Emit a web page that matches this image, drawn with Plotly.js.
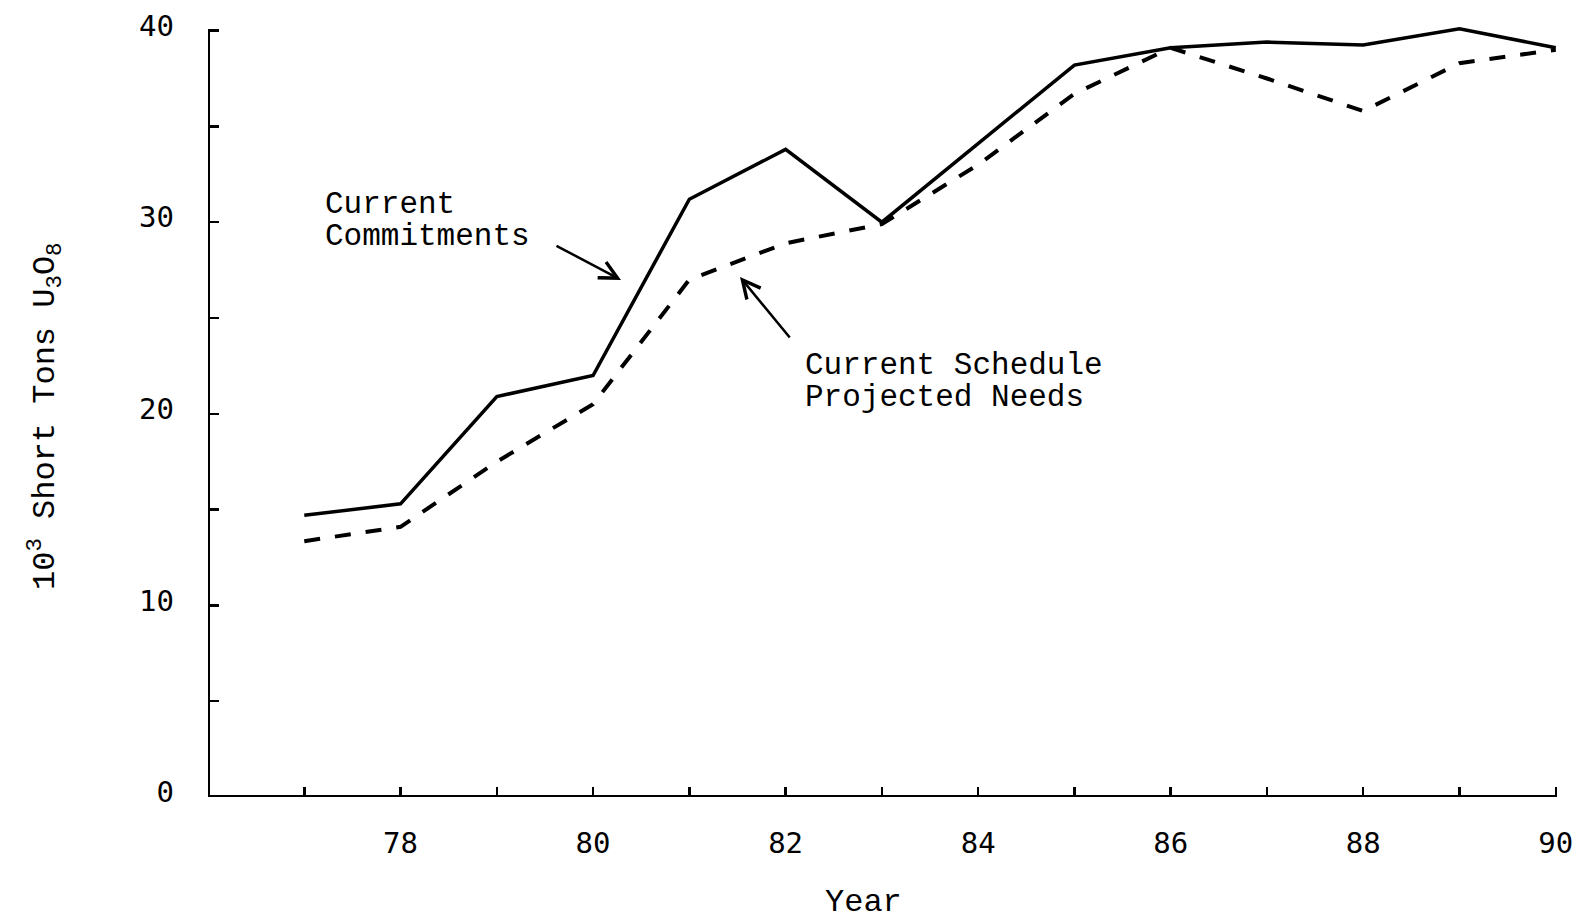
<!DOCTYPE html>
<html>
<head>
<meta charset="utf-8">
<script src="https://cdn.plot.ly/plotly-3.0.1.min.js"></script>
<style>html,body{margin:0;padding:0;background:#fff;}#chart{width:1580px;height:922px;}</style>
</head>
<body>
<div id="chart"></div>
<script>
// ---- data ----
const years = [77, 78, 79, 80, 81, 82, 83, 84, 85, 86, 87, 88, 89, 90];
const currentCommitments = [14.7, 15.3, 20.9, 22.0, 31.2, 33.8, 30.0, 34.1, 38.2, 39.1, 39.4, 39.25, 40.1, 39.1];
const projectedNeeds = [13.35, 14.1, 17.5, 20.5, 27.0, 28.9, 29.9, 33.0, 36.7, 39.1, 37.5, 35.8, 38.3, 39.0];
const xTickVals = [78, 80, 82, 84, 86, 88, 90];
const xTickText = ['78', '80', '82', '84', '86', '88', '90'];
const yTickVals = [0, 10, 20, 30, 40];
const yTickText = ['0', '10', '20', '30', '40'];
const labelCommit = ['Current', 'Commitments'];
const labelNeeds = ['Current Schedule', 'Projected Needs'];
const yTitle = '10<sup>3</sup> Short Tons U<sub>3</sub>O<sub>8</sub>';
const xTitle = 'Year';

// ---- layout helpers ----
const W = 1580, H = 922;
const M = {l: 208, r: 5, t: 21, b: 125, pad: 0};
const XR = [76, 90.2], YR = [0, 40.5];
const fx = px => (px - M.l) / (W - M.l - M.r);
const fy = py => (H - M.b - py) / (H - M.t - M.b);

const txtFont = {family: 'Liberation Mono, DejaVu Sans Mono, monospace', size: 31, color: '#000'};
const titleFont = {family: 'Liberation Mono, DejaVu Sans Mono, monospace', size: 32, color: '#000'};
const tickFont = {family: 'DejaVu Sans Mono, Liberation Mono, monospace', size: 29, color: '#000'};

const traces = [
  {x: years, y: currentCommitments, type: 'scatter', mode: 'lines', name: 'Current Commitments',
   line: {color: '#000', width: 3.5}},
  {x: years, y: projectedNeeds, type: 'scatter', mode: 'lines', name: 'Current Schedule Projected Needs',
   line: {color: '#000', width: 4, dash: '16px,15px'}}
];

function textAnn(text, px, py, font, extra) {
  return Object.assign({text: text, xref: 'paper', yref: 'paper', x: fx(px), y: fy(py),
    xanchor: 'left', yanchor: 'middle', showarrow: false, font: font, borderpad: 0}, extra || {});
}
function arrowAnn(headX, headY, tailX, tailY) {
  return {text: '', xref: 'paper', yref: 'paper', x: fx(headX), y: fy(headY),
    ax: tailX - headX, ay: tailY - headY, showarrow: true, arrowhead: 5, arrowsize: 1.4,
    arrowwidth: 2.5, arrowcolor: '#000', standoff: 0};
}

const annotations = [
  textAnn(labelCommit[0], 324, 204, txtFont),
  textAnn(labelCommit[1], 324, 236, txtFont),
  textAnn(labelNeeds[0], 804, 365, txtFont),
  textAnn(labelNeeds[1], 804, 397, txtFont),
  textAnn(yTitle, 45, 416, titleFont, {xanchor: 'center', textangle: -90}),
  textAnn(xTitle, 863, 902, titleFont, {xanchor: 'center'}),
  arrowAnn(621, 280, 555, 245),
  arrowAnn(740, 277, 791, 339)
];

const shapes = [
  {type: 'line', xref: 'x', yref: 'y', x0: XR[0], x1: XR[0], y0: 0, y1: 40, line: {color: '#000', width: 4}},
  {type: 'line', xref: 'x', yref: 'y', x0: XR[0], x1: 90, y0: 0, y1: 0, line: {color: '#000', width: 4}}
];

const layout = {
  width: W, height: H, margin: M, showlegend: false,
  paper_bgcolor: '#fff', plot_bgcolor: '#fff',
  xaxis: {range: XR, showgrid: false, zeroline: false, showline: false,
    tickmode: 'array', tickvals: xTickVals, ticktext: xTickText,
    ticks: 'inside', ticklen: 10, tickwidth: 2.5, tickcolor: '#000',
    minor: {dtick: 1, tick0: 77, ticks: 'inside', ticklen: 10, tickwidth: 2.5, tickcolor: '#000', showgrid: false},
    tickfont: tickFont, ticklabelstandoff: 26},
  yaxis: {range: YR, showgrid: false, zeroline: false, showline: false,
    tickmode: 'array', tickvals: yTickVals, ticktext: yTickText,
    ticks: 'inside', ticklen: 11, tickwidth: 2.5, tickcolor: '#000',
    minor: {dtick: 5, tick0: 0, ticks: 'inside', ticklen: 11, tickwidth: 2.5, tickcolor: '#000', showgrid: false},
    tickfont: tickFont, ticklabelstandoff: 33, ticklabelshift: -5},
  annotations: annotations,
  shapes: shapes
};

Plotly.newPlot('chart', traces, layout, {staticPlot: true, displayModeBar: false});
</script>
</body>
</html>
